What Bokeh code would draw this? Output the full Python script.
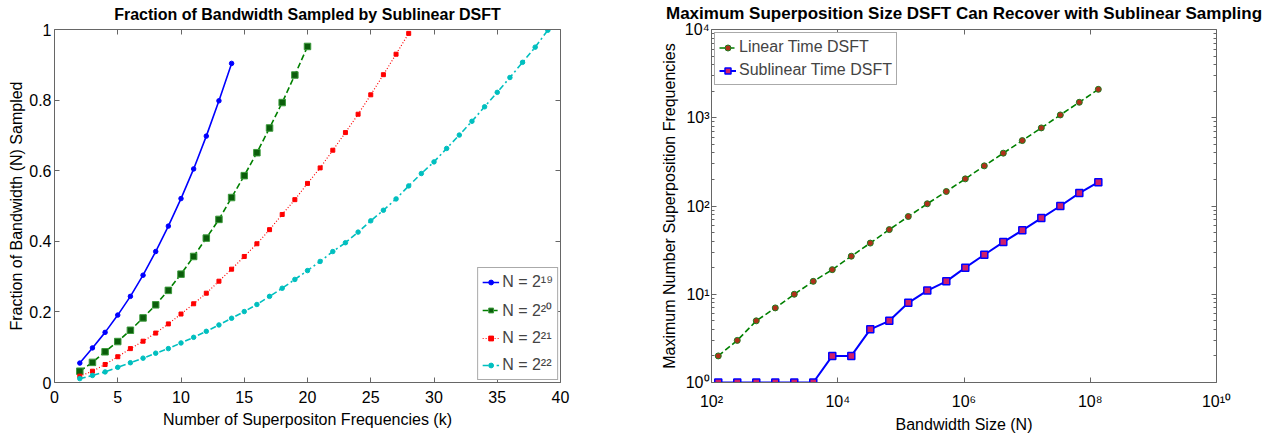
from bokeh.plotting import figure
from bokeh.layouts import row
from bokeh.models import (LinearAxis, LogAxis, FixedTicker, Legend, LegendItem, Range1d,
                          CustomJSTickFormatter)
from bokeh.embed import file_html
from bokeh.resources import INLINE

FONT = "Liberation Sans"

# ---------------- left chart data ----------------
left_title = "Fraction of Bandwidth Sampled by Sublinear DSFT"
k_19 = list(range(2, 15))
frac_19 = [0.055, 0.098, 0.142, 0.191, 0.244, 0.304, 0.371, 0.443, 0.521, 0.605,
           0.698, 0.798, 0.904]
k_20 = list(range(2, 21))
frac_20 = [0.032, 0.057, 0.087, 0.116, 0.148, 0.183, 0.220, 0.261, 0.307, 0.357,
           0.409, 0.462, 0.524, 0.586, 0.651, 0.721, 0.793, 0.871, 0.952]
k_21 = list(range(2, 29))
frac_21 = [0.018, 0.032, 0.051, 0.073, 0.096, 0.117, 0.140, 0.166, 0.194, 0.223,
           0.253, 0.287, 0.321, 0.357, 0.393, 0.433, 0.476, 0.518, 0.564, 0.608,
           0.658, 0.708, 0.760, 0.815, 0.872, 0.930, 0.989]
k_22 = list(range(2, 40))
frac_22 = [0.011, 0.020, 0.030, 0.043, 0.056, 0.069, 0.083, 0.096, 0.112, 0.128,
           0.145, 0.163, 0.182, 0.201, 0.221, 0.244, 0.267, 0.292, 0.317, 0.343,
           0.371, 0.396, 0.426, 0.458, 0.488, 0.520, 0.557, 0.592, 0.625, 0.663,
           0.701, 0.740, 0.781, 0.822, 0.864, 0.907, 0.950, 0.998]
left_labels = ["N = 2\u00b9\u2079", "N = 2\u00b2\u2070", "N = 2\u00b2\u00b9", "N = 2\u00b2\u00b2"]
left_x_ticks = [0, 5, 10, 15, 20, 25, 30, 35, 40]
left_y_ticks = [0, 0.2, 0.4, 0.6, 0.8, 1.0]
left_y_tick_labels = ["0", "0.2", "0.4", "0.6", "0.8", "1"]

# ---------------- right chart data ----------------
right_title = "Maximum Superposition Size DSFT Can Recover with Sublinear Sampling"
bandwidth = [128, 256, 512, 1024, 2048, 4096, 8192, 16384, 32768, 65536, 131072,
             262144, 524288, 1048576, 2097152, 4194304, 8388608, 16777216,
             33554432, 67108864, 134217728]
linear_k = [2, 3, 5, 7, 10, 14, 19, 27, 38, 54, 76, 106, 146, 203, 285, 397, 551,
            767, 1076, 1497, 2099]
sublinear_k = [1, 1, 1, 1, 1, 1, 2, 2, 4, 5, 8, 11, 14, 20, 28, 39, 53, 73, 100,
               140, 186]
right_labels = ["Linear Time DSFT", "Sublinear Time DSFT"]
right_x_ticks = [100, 10000, 1000000, 100000000, 10000000000]
right_x_tick_labels = ["10\u00b2", "10\u2074", "10\u2076", "10\u2078", "10\u00b9\u2070"]
right_y_ticks = [1, 10, 100, 1000, 10000]
right_y_tick_labels = ["10\u2070", "10\u00b9", "10\u00b2", "10\u00b3", "10\u2074"]
right_y_minor = [m * 10 ** d for d in range(4) for m in range(2, 10)]

AX = "#666666"

LOOKUP = """
for (let i = 0; i < vals.length; i++) {
    if (Math.abs(tick - vals[i]) <= 1e-9 * Math.max(1, Math.abs(vals[i]))) return labs[i];
}
return "";
"""


def lookup_formatter(vals, labs):
    return CustomJSTickFormatter(args=dict(vals=vals, labs=labs), code=LOOKUP)


def blank_formatter():
    return CustomJSTickFormatter(code="return '';")


def style_axis(ax, labels=True, label_standoff=5, axis_label_standoff=3):
    ax.axis_line_color = AX
    ax.major_tick_line_color = AX
    ax.minor_tick_line_color = AX
    ax.major_tick_in = 5
    ax.major_tick_out = 0
    ax.minor_tick_in = 3
    ax.minor_tick_out = 0
    ax.major_label_text_font = FONT
    ax.major_label_text_font_size = "16px"
    ax.major_label_text_color = "black"
    ax.axis_label_text_font = FONT
    ax.axis_label_text_font_size = "16px"
    ax.axis_label_text_font_style = "normal"
    ax.axis_label_text_color = "black"
    ax.axis_label_standoff = axis_label_standoff
    ax.major_label_standoff = label_standoff
    if not labels:
        ax.formatter = blank_formatter()
        ax.major_label_text_font_size = "0px"


def title_axis(ax, text, size):
    # the chart title is carried by the (label-less) top axis
    ax.axis_label = text
    ax.axis_label_text_font_style = "bold"
    ax.axis_label_text_font_size = size
    ax.axis_label_text_line_height = 1.0
    ax.axis_label_standoff = 7
    ax.major_label_standoff = 0


def style_legend(lg, glyph_h):
    lg.label_text_font = FONT
    lg.label_text_font_size = "16px"
    lg.border_line_color = "#555555"
    lg.background_fill_color = "white"
    lg.background_fill_alpha = 1
    lg.glyph_width = 17
    lg.glyph_height = glyph_h
    lg.label_height = 20
    lg.label_standoff = 3
    lg.padding = 4


# ---------------- left figure ----------------
p1 = figure(width=640, height=438, output_backend="svg", toolbar_location=None,
            x_range=Range1d(0, 40), y_range=Range1d(0, 1),
            min_border_left=54, min_border_right=80, min_border_top=29,
            min_border_bottom=56)
p1.grid.visible = False
p1.outline_line_color = None
xt1 = FixedTicker(ticks=left_x_ticks, minor_ticks=[])
yt1 = FixedTicker(ticks=left_y_ticks, minor_ticks=[])
p1.xaxis.ticker = xt1
p1.yaxis.ticker = yt1
p1.xaxis.axis_label = "Number of Superpositon Frequencies (k)"
p1.yaxis.axis_label = "Fraction of Bandwidth (N) Sampled"
p1.yaxis.formatter = lookup_formatter(left_y_ticks, left_y_tick_labels)
style_axis(p1.xaxis[0], label_standoff=8, axis_label_standoff=5)
style_axis(p1.yaxis[0], label_standoff=3, axis_label_standoff=1)
top1 = LinearAxis(ticker=xt1)
right1 = LinearAxis(ticker=yt1)
style_axis(top1, labels=False)
style_axis(right1, labels=False, label_standoff=0)
title_axis(top1, left_title, "16px")
p1.add_layout(top1, "above")
p1.add_layout(right1, "right")

l19 = p1.line(k_19, frac_19, line_color="#0000ff", line_width=1.6)
s19 = p1.scatter(k_19, frac_19, marker="circle", size=4.5, fill_color="#0000ff",
                 line_color="#0000ff")
l20 = p1.line(k_20, frac_20, line_color="#008000", line_width=1.6, line_dash="6 3")
s20 = p1.scatter(k_20, frac_20, marker="square", size=6.5, fill_color="#0b5d0b",
                 line_color="#3a9a3a", line_width=1)
l21 = p1.line(k_21, frac_21, line_color="#ff0000", line_width=1.2, line_dash="1 2")
s21 = p1.scatter(k_21, frac_21, marker="square", size=4, fill_color="#ff0000",
                 line_color="#ff0000")
l22 = p1.line(k_22, frac_22, line_color="#00bfbf", line_width=1.6, line_dash="6 3 2 3")
s22 = p1.scatter(k_22, frac_22, marker="circle", size=4.5, fill_color="#00bfbf",
                 line_color="#00bfbf")

leg1 = Legend(items=[
    LegendItem(label=left_labels[0], renderers=[l19, s19]),
    LegendItem(label=left_labels[1], renderers=[l20, s20]),
    LegendItem(label=left_labels[2], renderers=[l21, s21]),
    LegendItem(label=left_labels[3], renderers=[l22, s22]),
], location="bottom_right")
style_legend(leg1, 12)
leg1.spacing = 7
leg1.margin = 2
p1.add_layout(leg1)

# ---------------- right figure ----------------
p2 = figure(width=629, height=438, output_backend="svg", toolbar_location=None,
            x_axis_type="log", y_axis_type="log",
            x_range=Range1d(1e2, 1e10), y_range=Range1d(1, 1e4),
            min_border_left=71, min_border_right=53, min_border_top=29,
            min_border_bottom=56)
p2.grid.visible = False
p2.outline_line_color = None
xt2 = FixedTicker(ticks=right_x_ticks, minor_ticks=[])
yt2 = FixedTicker(ticks=right_y_ticks, minor_ticks=right_y_minor)
p2.xaxis.ticker = xt2
p2.yaxis.ticker = yt2
p2.xaxis.axis_label = "Bandwidth Size (N)"
p2.yaxis.axis_label = "Maximum Number Superposition Frequencies"
p2.xaxis.formatter = lookup_formatter(right_x_ticks, right_x_tick_labels)
p2.yaxis.formatter = lookup_formatter(right_y_ticks, right_y_tick_labels)
style_axis(p2.xaxis[0], label_standoff=10, axis_label_standoff=3)
style_axis(p2.yaxis[0], label_standoff=2, axis_label_standoff=4)
top2 = LogAxis(ticker=xt2)
right2 = LogAxis(ticker=yt2)
style_axis(top2, labels=False)
style_axis(right2, labels=False, label_standoff=0)
title_axis(top2, right_title, "17px")
p2.add_layout(top2, "above")
p2.add_layout(right2, "right")

ll = p2.line(bandwidth, linear_k, line_color="#008000", line_width=1.6, line_dash="6 3")
sl = p2.scatter(bandwidth, linear_k, marker="circle", size=6, fill_color="#b0301a",
                line_color="#1f7a1f", line_width=1)
ls = p2.line(bandwidth, sublinear_k, line_color="#0000ff", line_width=2)
ss = p2.scatter(bandwidth, sublinear_k, marker="square", size=7, fill_color="#d0206a",
                line_color="#0000ff", line_width=1.5)

leg2 = Legend(items=[
    LegendItem(label=right_labels[0], renderers=[ll, sl]),
    LegendItem(label=right_labels[1], renderers=[ls, ss]),
], location="top_left")
style_legend(leg2, 15)
leg2.spacing = 3
leg2.margin = 3
p2.add_layout(leg2)

layout = row(p1, p2)
open("out.html", "w").write(file_html(layout, INLINE))
